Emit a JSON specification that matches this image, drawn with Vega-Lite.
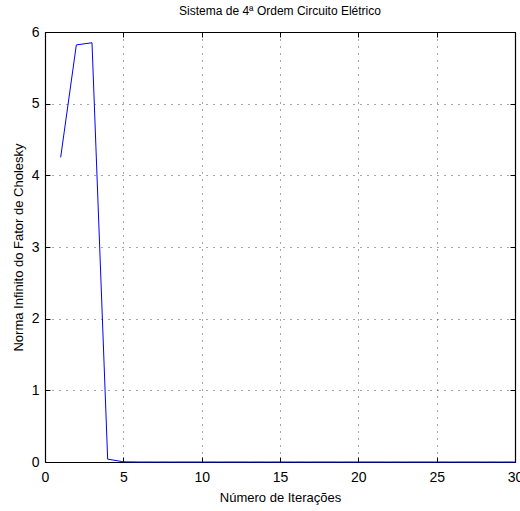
{
  "$schema": "https://vega.github.io/schema/vega-lite/v6.json",
  "width": 470,
  "height": 430,
  "autosize": {"type": "none"},
  "padding": {"left": 45, "top": 32, "right": 5, "bottom": 49},
  "background": "white",
  "view": {"stroke": null},
  "title": {
    "text": "Sistema de 4ª Ordem Circuito Elétrico",
    "font": "Liberation Sans",
    "fontSize": 12,
    "fontWeight": "normal",
    "color": "black",
    "offset": 7
  },
  "config": {
    "axis": {
      "labelFont": "Liberation Sans",
      "titleFont": "Liberation Sans",
      "labelFontSize": 14,
      "titleFontSize": 13,
      "titleFontWeight": "normal",
      "labelColor": "black",
      "titleColor": "black",
      "labelFlush": false,
      "labelOverlap": false,
      "domainColor": "black",
      "domainWidth": 1.2,
      "tickColor": "black",
      "tickSize": -5,
      "gridColor": "#222",
      "gridDash": [1, 6],
      "gridOpacity": 0.8
    }
  },
  "data": {
    "values": [
      {"iter": 1, "norma": 4.25},
      {"iter": 2, "norma": 5.82},
      {"iter": 3, "norma": 5.85},
      {"iter": 4, "norma": 0.04},
      {"iter": 5, "norma": 0.003},
      {"iter": 6, "norma": 0},
      {"iter": 7, "norma": 0},
      {"iter": 8, "norma": 0},
      {"iter": 9, "norma": 0},
      {"iter": 10, "norma": 0},
      {"iter": 11, "norma": 0},
      {"iter": 12, "norma": 0},
      {"iter": 13, "norma": 0},
      {"iter": 14, "norma": 0},
      {"iter": 15, "norma": 0},
      {"iter": 16, "norma": 0},
      {"iter": 17, "norma": 0},
      {"iter": 18, "norma": 0},
      {"iter": 19, "norma": 0},
      {"iter": 20, "norma": 0},
      {"iter": 21, "norma": 0},
      {"iter": 22, "norma": 0},
      {"iter": 23, "norma": 0},
      {"iter": 24, "norma": 0},
      {"iter": 25, "norma": 0},
      {"iter": 26, "norma": 0},
      {"iter": 27, "norma": 0},
      {"iter": 28, "norma": 0},
      {"iter": 29, "norma": 0},
      {"iter": 30, "norma": 0}
    ]
  },
  "layer": [
    {
      "mark": {"type": "line", "color": "#0000ff", "strokeWidth": 1},
      "encoding": {
        "x": {"field": "iter", "type": "quantitative", "scale": {"domain": [0, 30], "nice": false},
              "axis": {"orient": "bottom", "title": "Número de Iterações", "grid": true, "values": [0,5,10,15,20,25,30], "labelPadding": 13, "titlePadding": 7}},
        "y": {"field": "norma", "type": "quantitative", "scale": {"domain": [0, 6], "nice": false},
              "axis": {"orient": "left", "title": "Norma Infinito do Fator de Cholesky", "grid": true, "values": [0,1,2,3,4,5,6], "labelPadding": 11, "titlePadding": 6}}
      }
    },
    {
      "mark": {"type": "point", "opacity": 0},
      "encoding": {
        "x": {"field": "iter", "type": "quantitative", "scale": {"domain": [0, 30], "nice": false},
              "axis": {"orient": "top", "labels": false, "title": null, "grid": false, "values": [0,5,10,15,20,25,30]}},
        "y": {"field": "norma", "type": "quantitative", "scale": {"domain": [0, 6], "nice": false},
              "axis": {"orient": "right", "labels": false, "title": null, "grid": false, "values": [0,1,2,3,4,5,6]}}
      }
    }
  ],
  "resolve": {"axis": {"x": "independent", "y": "independent"}}
}
